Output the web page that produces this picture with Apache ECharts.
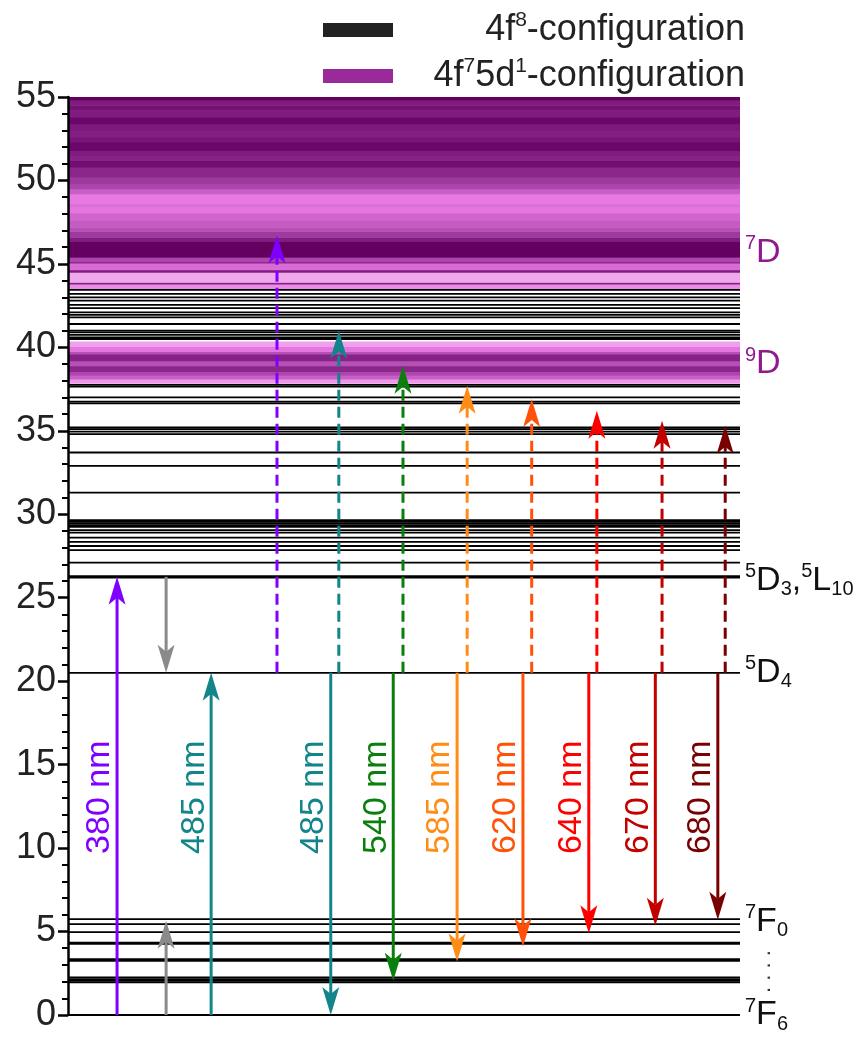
<!DOCTYPE html>
<html>
<head>
<meta charset="utf-8">
<title>Tb3+ energy levels</title>
<script src="https://cdn.jsdelivr.net/npm/echarts@6/dist/echarts.min.js"></script>
<style>
  html, body { margin: 0; padding: 0; background: #fff; }
  #chart { width: 861px; height: 1040px; }
</style>
</head>
<body>
<div id="chart"></div>
<script>
// ---- Level energies (10^3 cm^-1) ----
// 4f8 configuration: each entry is one sublevel; dense multiplets appear as thick bands
const f8Levels = [
  0, 1.95, 2.05, 2.15, 2.25, 3.25, 3.35, 4.27, 4.33, 4.97, 5.45, 5.75,
  20.5,
  26.2, 26.3, 27.1, 27.85, 28.1, 28.35, 28.6, 28.9, 29.05,
  29.25, 29.35, 29.45, 29.55, 29.65,
  31.3, 32.9, 33.7, 34.8, 34.95, 35.1, 35.2, 36.65, 36.75, 37.0, 37.65, 37.75,
  40.5, 40.6, 40.75, 40.9, 41.0, 41.4, 41.8, 41.95, 42.1, 42.35, 42.55, 42.8,
  43.0, 43.2, 43.45
];

// 4f7 5d1 configuration: [lower edge, upper edge, state density 0..1]
const d9Strips = [
  [37.85, 38.10, 0.12], [38.10, 38.35, 0.40], [38.35, 38.55, 0.55],
  [38.55, 38.90, 0.72], [38.90, 39.20, 0.50], [39.20, 39.60, 0.75],
  [39.60, 39.75, 0.50], [39.75, 40.05, 0.22], [40.05, 40.35, 0.10]
];
const d7Strips = [
  [43.50, 43.80, 0.15], [43.80, 43.90, 0.75], [43.90, 44.50, 0.08],
  [44.50, 44.65, 0.80], [44.65, 45.05, 0.30], [45.05, 45.15, 0.70],
  [45.15, 45.40, 0.55], [45.40, 46.35, 1.00], [46.35, 46.60, 0.80],
  [46.60, 46.95, 0.62], [46.95, 47.20, 0.50], [47.20, 47.60, 0.42],
  [47.60, 48.05, 0.35], [48.05, 48.40, 0.22], [48.40, 48.60, 0.28],
  [48.60, 49.20, 0.20], [49.20, 49.50, 0.40], [49.50, 49.80, 0.55],
  [49.80, 50.20, 0.62], [50.20, 50.80, 0.72], [50.80, 51.20, 0.90],
  [51.20, 51.50, 0.75], [51.50, 51.80, 0.80], [51.80, 52.30, 0.95],
  [52.30, 52.60, 0.85], [52.60, 53.00, 0.78], [53.00, 53.40, 0.82],
  [53.40, 53.80, 0.95], [53.80, 54.20, 0.80], [54.20, 54.50, 0.88],
  [54.50, 54.80, 0.80], [54.80, 55.00, 1.00]
];

// ---- Transitions ----
// Ground-state excitation
const pumpLabels = ['380 nm', '485 nm'];
const pumpFrom = [0, 0];
const pumpTo = [26.25, 20.5];
// Non-radiative steps
const relaxFrom = [26.25, 0];
const relaxTo = [20.5, 5.65];
// 5D4 -> 7FJ emission
const emissionLabels = ['485 nm', '540 nm', '585 nm', '620 nm', '640 nm', '670 nm', '680 nm'];
const emissionFrom = 20.5;
const emissionTo = [0, 2.05, 3.2, 4.1, 4.9, 5.35, 5.7];
// Excited-state absorption out of 5D4
const esaLabels = ['380 nm', '485 nm', '540 nm', '585 nm', '620 nm', '640 nm', '670 nm', '680 nm'];
const esaFrom = 20.5;
const esaTo = [46.7, 41.0, 38.9, 37.7, 36.9, 36.2, 35.6, 35.3];

// ---- Term labels on the right ----
const termText = ['{sup|7}{base|D}', '{sup|9}{base|D}', '{sup|5}{base|D}{sub|3}{base|,}{sup|5}{base|L}{sub|10}', '{sup|5}{base|D}{sub|4}', '{sup|7}{base|F}{sub|0}', '{sup|7}{base|F}{sub|6}'];
const termEnergy = [45.7, 39.0, 26.05, 20.5, 5.6, 0];
const termIsD = [true, true, false, false, false, false];

// ---- Legend entries ----
const legendNames = ['f8', 'f7d1'];
const legendText = {
  f8: '{t|4f}{sup|8}{t|-configuration}',
  f7d1: '{t|4f}{sup|7}{t|5d}{sup|1}{t|-configuration}'
};

// ---- Layout (horizontal slots, 0..100 across the plot) ----
const pumpX = [7.3, 21.3];
const relaxX = [14.6, 14.6];
const emissionX = [39.1, 48.4, 57.9, 67.7, 77.5, 87.4, 96.7];
const esaX = [31.1, 40.3, 49.85, 59.4, 69.0, 78.7, 88.4, 97.8];
const LABEL_E = 13.05;

const FONT = '"Liberation Sans", Arial, Helvetica, sans-serif';
const waveColor = {
  '380 nm': '#8000ff', '485 nm': '#12858a', '540 nm': '#0b7f0b', '585 nm': '#ff8c14',
  '620 nm': '#ff5208', '640 nm': '#ff0000', '670 nm': '#c20000', '680 nm': '#780000'
};
const GREY = '#8a8a8a';
const PURPLE_TEXT = '#8e1a8e';

// density -> colour ramp for the 5d states
const ramp = [[0, [246, 200, 244]], [0.2, [232, 120, 226]], [0.45, [192, 88, 192]], [0.7, [142, 42, 142]], [1, [100, 0, 96]]];
function densityColor(v) {
  for (let i = 1; i < ramp.length; i++) {
    if (v <= ramp[i][0]) {
      const a = ramp[i - 1], b = ramp[i];
      const t = (v - a[0]) / (b[0] - a[0]);
      const c = a[1].map((ch, k) => Math.round(ch + (b[1][k] - ch) * t));
      return 'rgb(' + c.join(',') + ')';
    }
  }
  return 'rgb(' + ramp[ramp.length - 1][1].join(',') + ')';
}

// assemble arrow records
const arrows = [];
pumpLabels.forEach((l, i) => arrows.push({ x: pumpX[i], from: pumpFrom[i], to: pumpTo[i], color: waveColor[l], dashed: false, label: l }));
relaxFrom.forEach((f, i) => arrows.push({ x: relaxX[i], from: f, to: relaxTo[i], color: GREY, dashed: false, label: null }));
esaLabels.forEach((l, i) => arrows.push({ x: esaX[i], from: esaFrom, to: esaTo[i], color: waveColor[l], dashed: true, label: null }));
emissionLabels.forEach((l, i) => arrows.push({ x: emissionX[i], from: emissionFrom, to: emissionTo[i], color: waveColor[l], dashed: false, label: l }));

function arrowElements(api, a) {
  const p0 = api.coord([a.x, a.from]);
  const p1 = api.coord([a.x, a.to]);
  const dir = p1[1] > p0[1] ? 1 : -1;
  const headLen = 28, half = 8.5, notch = 7;
  const baseY = p1[1] - dir * headLen;
  const notchY = baseY + dir * notch;
  const els = [
    { type: 'line', shape: { x1: p0[0], y1: p0[1], x2: p0[0], y2: notchY },
      style: { stroke: a.color, lineWidth: 3, lineDash: a.dashed ? [11, 6] : null } },
    { type: 'polygon', shape: { points: [[p1[0], p1[1]], [p1[0] - half, baseY], [p1[0], notchY], [p1[0] + half, baseY]] },
      style: { fill: a.color } }
  ];
  if (a.label) {
    const lp = api.coord([a.x, LABEL_E]);
    els.push({ type: 'text', x: lp[0] - 17, y: lp[1], rotation: Math.PI / 2,
      style: { text: a.label, fill: a.color, font: '34px ' + FONT, align: 'center', verticalAlign: 'middle' } });
  }
  return els;
}

const chart = echarts.init(document.getElementById('chart'), null, { renderer: 'canvas' });

const richTerm = (color) => ({
  base: { fontSize: 34, lineHeight: 38, fontFamily: FONT, color: color },
  sup: { fontSize: 20, lineHeight: 22, fontFamily: FONT, color: color, verticalAlign: 'top' },
  sub: { fontSize: 20, lineHeight: 22, fontFamily: FONT, color: color, verticalAlign: 'bottom' }
});

chart.setOption({
  animation: false,
  grid: { left: 68, right: 121, top: 97, bottom: 25, containLabel: false },
  legend: {
    orient: 'vertical', left: 318, top: 5, itemWidth: 70, itemHeight: 14, itemGap: 6, icon: 'rect',
    data: legendNames,
    formatter: (name) => legendText[name],
    textStyle: {
      fontSize: 36, lineHeight: 40, color: '#222', fontFamily: FONT, width: 347, align: 'right',
      rich: {
        t: { fontSize: 36, lineHeight: 40, fontFamily: FONT, color: '#222', align: 'right' },
        sup: { fontSize: 21, lineHeight: 24, fontFamily: FONT, color: '#222', verticalAlign: 'top', align: 'right' }
      }
    }
  },
  xAxis: { type: 'value', min: 0, max: 100, show: false },
  yAxis: {
    type: 'value', min: 0, max: 55, interval: 5, z: 10,
    axisLine: { show: true, lineStyle: { color: '#000', width: 2.5 } },
    axisTick: { show: true, length: 10, lineStyle: { color: '#000', width: 2.5 } },
    minorTick: { show: true, splitNumber: 5, length: 6, lineStyle: { color: '#000', width: 2 } },
    splitLine: { show: false },
    axisLabel: { fontSize: 36, color: '#222', fontFamily: FONT, margin: 12 }
  },
  series: [
    {
      name: 'f7d1', type: 'custom', itemStyle: { color: '#9a2a9a' }, z: 2,
      data: d9Strips.concat(d7Strips),
      encode: { y: [0, 1] },
      renderItem(params, api) {
        const top = api.coord([0, api.value(1)]);
        const bot = api.coord([100, api.value(0)]);
        return { type: 'rect', shape: { x: top[0], y: top[1], width: bot[0] - top[0], height: bot[1] - top[1] + 0.5 },
          style: { fill: densityColor(api.value(2)) } };
      }
    },
    {
      name: 'f8', type: 'custom', itemStyle: { color: '#222' }, z: 3,
      data: f8Levels.map(e => [e]),
      encode: { y: 0 },
      renderItem(params, api) {
        const a = api.coord([0, api.value(0)]);
        const b = api.coord([100, api.value(0)]);
        return { type: 'line', shape: { x1: a[0], y1: a[1], x2: b[0], y2: b[1] }, style: { stroke: '#000', lineWidth: 1.8 } };
      }
    },
    {
      name: 'transitions', type: 'custom', z: 5,
      data: arrows.map(a => [a.x, a.from, a.to]),
      encode: { x: 0, y: [1, 2] },
      renderItem(params, api) {
        return { type: 'group', children: arrowElements(api, arrows[params.dataIndex]) };
      }
    },
    {
      name: 'terms', type: 'custom', z: 6,
      data: termEnergy.map(e => [100, e]),
      encode: { x: 0, y: 1 },
      renderItem(params, api) {
        const i = params.dataIndex;
        const p = api.coord([100, api.value(1)]);
        const color = termIsD[i] ? PURPLE_TEXT : '#111';
        const children = [{ type: 'text', x: p[0] + 5, y: p[1],
          style: { text: termText[i], font: '34px ' + FONT, fill: color, align: 'left', verticalAlign: 'middle', rich: richTerm(color) } }];
        if (i === 5) {
          // ellipsis between 7F0 and 7F6
          const q = api.coord([100, 2.6]);
          children.push({ type: 'text', x: q[0] + 24, y: q[1], rotation: Math.PI / 2,
            style: { text: '. . . .', font: '22px ' + FONT, fill: '#333', align: 'center', verticalAlign: 'middle' } });
        }
        return { type: 'group', children };
      }
    }
  ]
});
</script>
</body>
</html>
